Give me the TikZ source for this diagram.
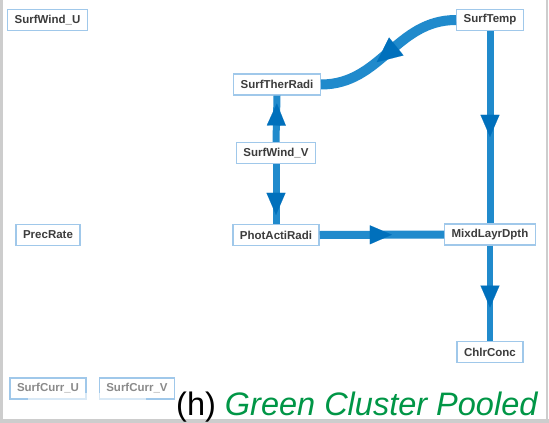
\documentclass[tikz,border=0pt]{standalone}
\usepackage{fontspec}
\setmainfont{Liberation Sans}
\usetikzlibrary{arrows.meta,decorations.markings}
\definecolor{edgeblue}{RGB}{32,138,204}
\definecolor{tipblue}{RGB}{0,112,188}
\definecolor{boxblue}{RGB}{160,200,234}
\definecolor{txtgray}{RGB}{60,60,60}
\definecolor{framegray}{RGB}{205,205,205}
\definecolor{labgreen}{RGB}{0,150,70}
\tikzset{
  var/.style={draw=boxblue, line width=1.3pt, fill=white, text=txtgray,
    font=\fontsize{11.5}{12}\selectfont\bfseries, inner xsep=7pt, inner ysep=0pt,
    minimum height=21pt},
  faded/.style={var, text=txtgray!60},
  edge/.style={draw=edgeblue, line width=#1},
  tipat/.style={postaction={decorate}, decoration={markings,
    mark=at position #1 with {\arrow[tipblue]{Triangle[length=22pt,width=19pt,line width=0.1pt]}}}},
  bigtipat/.style={postaction={decorate}, decoration={markings,
    mark=at position #1 with {\arrow[tipblue]{Triangle[length=25pt,width=23pt,line width=0.1pt]}}}}
}
\begin{document}
\begin{tikzpicture}[x=1pt,y=1pt]
\useasboundingbox (0,0) rectangle (549,-423);
\fill[white] (0,0) rectangle (549,-423);
% frame
\fill[framegray] (0,0) rectangle (2.5,-423);
\fill[framegray] (545.5,0) rectangle (548,-423);
\fill[framegray] (0,-419) rectangle (549,-423);
% nodes
\node[var] (SU) at (47.5,-20) {SurfWind\_U};
\node[var] (ST) at (490,-20) {SurfTemp};
\node[var] (STR) at (277,-84.5) {SurfTherRadi};
\node[var] (SV) at (276,-153) {SurfWind\_V};
\node[var] (PAR) at (276,-235) {PhotActiRadi};
\node[var] (PR) at (48,-235) {PrecRate};
\node[var] (MLD) at (490,-234.5) {MixdLayrDpth};
\node[var] (CC) at (490,-352) {ChlrConc};
\node[faded] (SCU) at (48,-388.5) {SurfCurr\_U};
\node[faded] (SCV) at (137,-388.5) {SurfCurr\_V};
% edges
\draw[edge=10pt, bigtipat=0.6] (ST.west) .. controls +(-60,0) and +(60,0) .. (STR.east);
\draw[edge=7pt, tipat=0.55] (ST.south) -- (MLD.north);
\draw[edge=7pt, tipat=0.83] (SV.north) -- (STR.south);
\draw[edge=7pt, tipat=0.85] (SV.south) -- (PAR.north);
\draw[edge=8pt, tipat=0.58] (PAR.east) -- (MLD.west);
\draw[edge=6pt, tipat=0.65] (MLD.south) -- (CC.north);
% fade over bottom-left boxes
\fill[white, opacity=0.6] (28,-393) rectangle (146,-411);
% caption
\node[anchor=base west, inner sep=0pt, font=\fontsize{32.5}{34}\selectfont] (cap) at (176,-415)
  {(h) \textcolor{labgreen}{\itshape Green Cluster Pooled}};
\end{tikzpicture}
\end{document}
